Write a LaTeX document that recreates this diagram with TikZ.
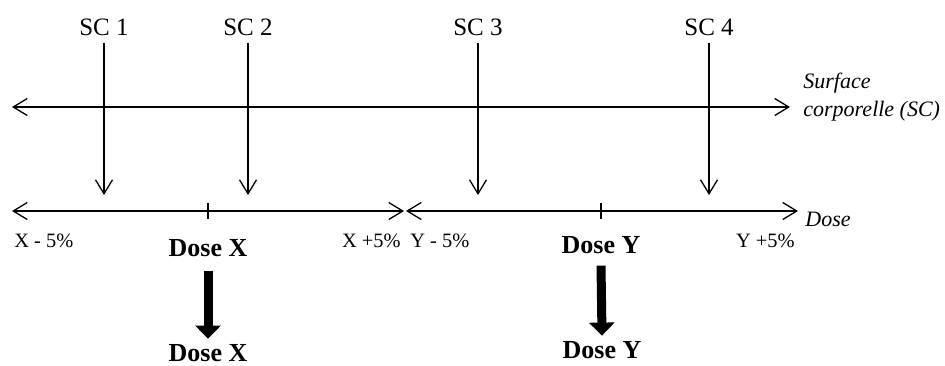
\documentclass[tikz,border=0pt]{standalone}
\usepackage{fontspec}
\setmainfont{Liberation Serif}
\usetikzlibrary{arrows.meta}

\begin{document}
\begin{tikzpicture}[x=0.5pt,y=-0.5pt,>={Straight Barb[length=7pt,width=8.5pt]},
 axis/.style={line width=0.65pt,<->},
 scarrow/.style={line width=0.65pt,->},
 sclabel/.style={anchor=base,inner sep=0pt,font=\fontsize{12.5}{14}\selectfont},
 limlabel/.style={inner sep=0pt,font=\fontsize{10.2}{12}\selectfont},
 doselabel/.style={anchor=base,inner sep=0pt,font=\fontsize{13}{15}\selectfont\bfseries},
 axislabel/.style={inner sep=0pt,align=left,font=\fontsize{11}{14}\selectfont\itshape},
 bigarrow/.style={line width=4.5pt,-{Triangle[length=6.5pt,width=12.5pt]}}]
 \useasboundingbox (0,0) rectangle (945,365);
 % surface axis
 \coordinate (sl) at (12,107);
 \coordinate (sr) at (790,107);
 \draw[axis] (sl) -- (sr);
 \node[axislabel,anchor=west] (sc) at (803,97) {Surface\\corporelle (SC)};
 % dose axes
 \coordinate (dl) at (12,211);
 \coordinate (dmx) at (404,211);
 \coordinate (dmy) at (406,211);
 \coordinate (dr) at (798,211);
 \draw[axis] (dl) -- (dmx);
 \draw[axis] (dmy) -- (dr);
 \node[axislabel,anchor=base west] (dose) at (805,226) {Dose};
 \coordinate (tx) at (208,211);
 \coordinate (ty) at (601,211);
 \draw[line width=0.65pt] (tx) ++(0,-8) -- ++(0,16);
 \draw[line width=0.65pt] (ty) ++(0,-8) -- ++(0,16);
 % SC arrows
 \foreach \n/\x in {1/104,2/248,3/478,4/709}{
  \node[sclabel] (sc\n) at (\x,35) {SC \n};
  \coordinate (e\n) at (\x,195);
  \draw[scarrow] ([yshift=-3.5pt]sc\n.south) -- (e\n);
 }
 % limits
 \node[limlabel,anchor=base west] (xm) at (14,247) {X - 5\%};
 \node[limlabel,anchor=base east] (xp) at (401,247) {X +5\%};
 \node[limlabel,anchor=base west] (ym) at (410,247) {Y - 5\%};
 \node[limlabel,anchor=base east] (yp) at (795,247) {Y +5\%};
 % doses
 \node[doselabel] (dx) at (208,256) {Dose X};
 \node[doselabel] (dy) at (601,253) {Dose Y};
 \node[doselabel] (dxb) at (208,361) {Dose X};
 \node[doselabel] (dyb) at (602,358) {Dose Y};
 \draw[bigarrow] ([yshift=-7pt]dx.south) -- ([yshift=2.5pt]dxb.north);
 \draw[bigarrow] ([yshift=-6pt]dy.south) -- ([yshift=2.5pt]dyb.north);
\end{tikzpicture}
\end{document}
